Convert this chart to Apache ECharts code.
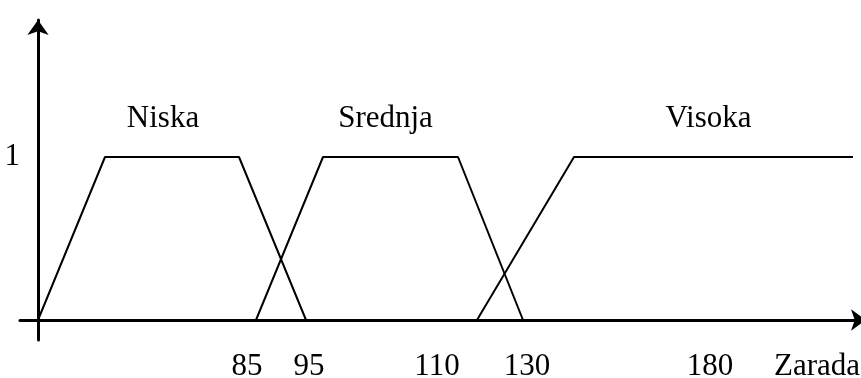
<!DOCTYPE html>
<html>
<head>
<meta charset="utf-8">
<script src="https://cdn.jsdelivr.net/npm/echarts@6/dist/echarts.min.js"></script>
<style>
  html, body { margin: 0; padding: 0; background: #fff; }
  #chart { width: 861px; height: 378px; }
</style>
</head>
<body>
<div id="chart"></div>
<script>
// schematic x units (the sketch is not to scale), y = membership degree
var niska = [[0, 0], [67, 1], [201, 1], [268, 0]];
var srednja = [[218, 0], [285, 1], [420, 1], [485, 0]];
var visoka = [[439, 0], [536, 1], [815, 1]];
var setNames = ['Niska', 'Srednja', 'Visoka'];
var tickValues = [209, 271, 399, 489, 672, 779];
var tickLabels = ['85', '95', '110', '130', '180', 'Zarada'];

var FONT = 'Liberation Serif';
var chart = echarts.init(document.getElementById('chart'));

function fuzzySet(name, data, dx) {
    // name sits above the middle of the plateau
    var mid = (data[1][0] + data[2][0]) / 2;
    return {
        name: name,
        type: 'line',
        data: data,
        symbol: 'none',
        lineStyle: { color: '#000', width: 2 },
        markPoint: {
            symbol: 'circle',
            symbolSize: 0,
            data: [{ coord: [mid, 1], value: name }],
            label: {
                show: true,
                position: 'top',
                distance: 23,
                offset: [dx, 0],
                formatter: name,
                color: '#000',
                fontFamily: FONT,
                fontSize: 31
            }
        }
    };
}

var option = {
    animation: false,
    backgroundColor: '#fff',
    grid: {
        left: 20, right: -5, top: 20, bottom: 38,
        containLabel: false,
        outerBoundsMode: 'none'
    },
    xAxis: {
        type: 'value',
        min: -18,
        max: 828,
        splitLine: { show: false },
        axisTick: { show: false },
        axisLine: {
            onZero: true,
            symbol: ['none', 'arrow'],
            symbolSize: [16, 15],
            lineStyle: { color: '#000', width: 3 }
        },
        axisLabel: {
            customValues: tickValues,
            formatter: function (v) {
                return tickLabels[tickValues.indexOf(v)];
            },
            margin: 11,
            color: '#000',
            fontFamily: FONT,
            fontSize: 31
        }
    },
    yAxis: {
        type: 'value',
        min: -20 / 163,
        max: 300 / 163,
        splitLine: { show: false },
        axisTick: { show: false },
        axisLine: {
            onZero: true,
            symbol: ['none', 'arrow'],
            symbolSize: [16, 15],
            lineStyle: { color: '#000', width: 3 }
        },
        axisLabel: {
            customValues: [1],
            margin: 0,
            color: '#000',
            fontFamily: FONT,
            fontSize: 31
        }
    },
    series: [
        fuzzySet(setNames[0], niska, -9),
        fuzzySet(setNames[1], srednja, -5),
        fuzzySet(setNames[2], visoka, -5)
    ]
};
chart.setOption(option);
</script>
</body>
</html>
